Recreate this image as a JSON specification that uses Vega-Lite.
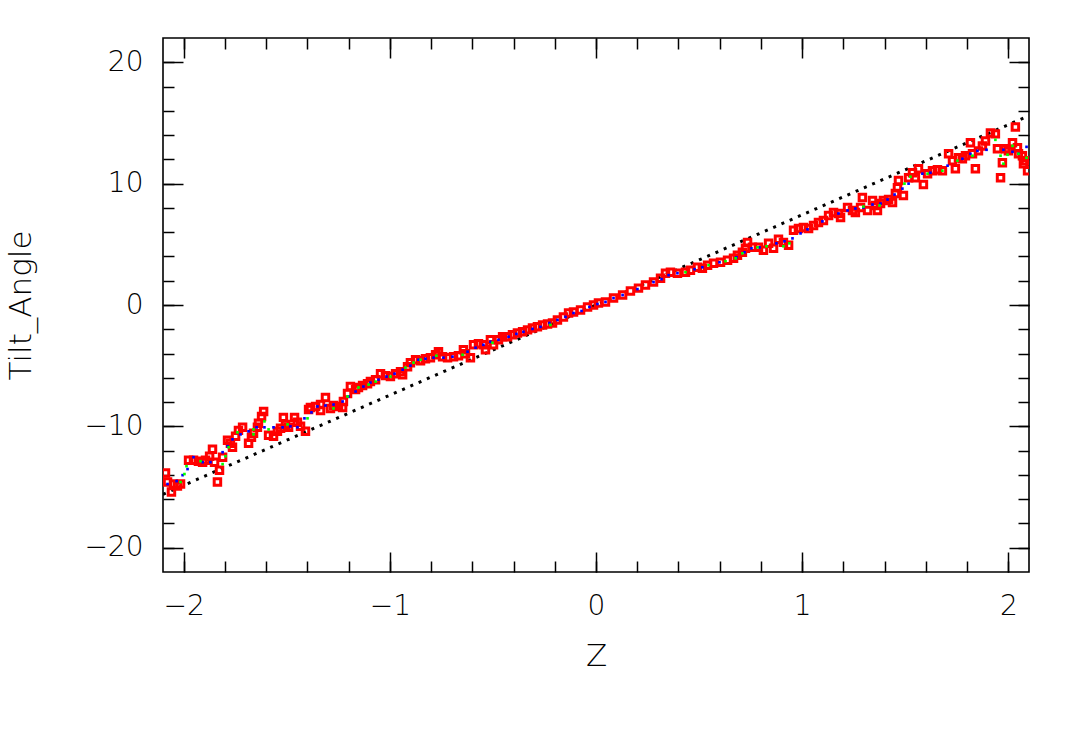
{
  "$schema": "https://vega.github.io/schema/vega-lite/v6.json",
  "width": 866,
  "height": 534,
  "autosize": {"type": "none"},
  "padding": {"left": 163, "top": 38, "right": 57, "bottom": 181},
  "background": "white",
  "config": {
    "view": {"stroke": "black", "strokeWidth": 1.6},
    "axis": {
      "domain": false,
      "grid": false,
      "tickColor": "black",
      "tickWidth": 1.5,
      "labelColor": "black",
      "labelFont": "DejaVu Sans",
      "labelFontWeight": 200,
      "labelFontSize": 28,
      "titleColor": "black",
      "titleFont": "DejaVu Sans",
      "titleFontWeight": 200,
      "titleFontSize": 31
    }
  },
  "datasets": {
    "line": [{"z": -2.1, "t": -15.6}, {"z": 2.1, "t": 15.6}],
    "red": [
      {"z": -2.088, "t": -13.85}, {"z": -2.078, "t": -14.59}, {"z": -2.059, "t": -15.41}, {"z": -2.049, "t": -14.75},
      {"z": -2.030, "t": -14.92}, {"z": -2.015, "t": -14.75}, {"z": -1.976, "t": -12.79}, {"z": -1.952, "t": -12.79},
      {"z": -1.928, "t": -12.87}, {"z": -1.908, "t": -12.95}, {"z": -1.894, "t": -12.79}, {"z": -1.874, "t": -12.46},
      {"z": -1.860, "t": -11.89}, {"z": -1.850, "t": -12.95}, {"z": -1.826, "t": -13.61}, {"z": -1.836, "t": -14.59},
      {"z": -1.811, "t": -12.54}, {"z": -1.787, "t": -11.15}, {"z": -1.773, "t": -11.39}, {"z": -1.763, "t": -11.72},
      {"z": -1.748, "t": -10.82}, {"z": -1.734, "t": -10.33}, {"z": -1.714, "t": -10.08}, {"z": -1.685, "t": -11.39},
      {"z": -1.671, "t": -10.90}, {"z": -1.661, "t": -10.57}, {"z": -1.642, "t": -10.08}, {"z": -1.637, "t": -9.75},
      {"z": -1.622, "t": -9.18}, {"z": -1.612, "t": -8.77}, {"z": -1.588, "t": -10.74}, {"z": -1.564, "t": -10.82},
      {"z": -1.545, "t": -10.41}, {"z": -1.530, "t": -10.16}, {"z": -1.516, "t": -9.26}, {"z": -1.506, "t": -9.84},
      {"z": -1.491, "t": -10.08}, {"z": -1.462, "t": -9.26}, {"z": -1.448, "t": -9.67}, {"z": -1.433, "t": -10.00},
      {"z": -1.409, "t": -10.41}, {"z": -1.394, "t": -8.61}, {"z": -1.385, "t": -8.44}, {"z": -1.360, "t": -8.36},
      {"z": -1.336, "t": -8.20}, {"z": -1.312, "t": -7.62}, {"z": -1.336, "t": -8.69}, {"z": -1.288, "t": -8.52},
      {"z": -1.273, "t": -8.28}, {"z": -1.249, "t": -8.36}, {"z": -1.229, "t": -8.44}, {"z": -1.225, "t": -7.95},
      {"z": -1.205, "t": -7.30}, {"z": -1.191, "t": -6.72}, {"z": -1.166, "t": -6.97}, {"z": -1.152, "t": -6.80},
      {"z": -1.132, "t": -6.64}, {"z": -1.108, "t": -6.48}, {"z": -1.094, "t": -6.31}, {"z": -1.069, "t": -6.15},
      {"z": -1.045, "t": -5.66}, {"z": -1.021, "t": -5.82}, {"z": -0.997, "t": -5.90}, {"z": -0.972, "t": -5.66},
      {"z": -0.948, "t": -5.49}, {"z": -0.938, "t": -5.74}, {"z": -0.914, "t": -5.08}, {"z": -0.900, "t": -4.75},
      {"z": -0.875, "t": -4.51}, {"z": -0.851, "t": -4.59}, {"z": -0.827, "t": -4.43}, {"z": -0.803, "t": -4.34},
      {"z": -0.778, "t": -4.10}, {"z": -0.764, "t": -3.85}, {"z": -0.744, "t": -4.26}, {"z": -0.720, "t": -4.34},
      {"z": -0.691, "t": -4.26}, {"z": -0.667, "t": -4.18}, {"z": -0.643, "t": -3.69}, {"z": -0.633, "t": -4.02},
      {"z": -0.609, "t": -4.34}, {"z": -0.594, "t": -3.28}, {"z": -0.570, "t": -3.20}, {"z": -0.546, "t": -3.28},
      {"z": -0.536, "t": -3.69}, {"z": -0.512, "t": -2.87}, {"z": -0.497, "t": -3.28}, {"z": -0.473, "t": -2.87},
      {"z": -0.453, "t": -2.62}, {"z": -0.429, "t": -2.62}, {"z": -0.405, "t": -2.46}, {"z": -0.381, "t": -2.30},
      {"z": -0.356, "t": -2.21}, {"z": -0.332, "t": -2.05}, {"z": -0.308, "t": -1.89}, {"z": -0.284, "t": -1.80},
      {"z": -0.259, "t": -1.64}, {"z": -0.235, "t": -1.56}, {"z": -0.211, "t": -1.48}, {"z": -0.187, "t": -1.23},
      {"z": -0.158, "t": -0.98}, {"z": -0.133, "t": -0.66}, {"z": -0.109, "t": -0.57}, {"z": -0.075, "t": -0.41},
      {"z": -0.041, "t": -0.16}, {"z": -0.012, "t": 0.00}, {"z": 0.012, "t": 0.16}, {"z": 0.046, "t": 0.25},
      {"z": 0.085, "t": 0.57}, {"z": 0.129, "t": 0.82}, {"z": 0.167, "t": 1.15}, {"z": 0.206, "t": 1.39},
      {"z": 0.240, "t": 1.64}, {"z": 0.279, "t": 1.89}, {"z": 0.313, "t": 2.21}, {"z": 0.337, "t": 2.62},
      {"z": 0.361, "t": 2.70}, {"z": 0.395, "t": 2.62}, {"z": 0.434, "t": 2.70}, {"z": 0.458, "t": 2.87},
      {"z": 0.492, "t": 3.11}, {"z": 0.516, "t": 3.03}, {"z": 0.541, "t": 3.28}, {"z": 0.570, "t": 3.44},
      {"z": 0.604, "t": 3.52}, {"z": 0.638, "t": 3.69}, {"z": 0.667, "t": 3.85}, {"z": 0.686, "t": 4.10},
      {"z": 0.710, "t": 4.34}, {"z": 0.725, "t": 4.67}, {"z": 0.735, "t": 5.16}, {"z": 0.759, "t": 4.75},
      {"z": 0.788, "t": 4.75}, {"z": 0.812, "t": 4.51}, {"z": 0.837, "t": 5.08}, {"z": 0.861, "t": 4.67},
      {"z": 0.885, "t": 5.41}, {"z": 0.909, "t": 5.16}, {"z": 0.934, "t": 4.92}, {"z": 0.958, "t": 6.15},
      {"z": 0.982, "t": 6.31}, {"z": 1.006, "t": 6.39}, {"z": 1.031, "t": 6.31}, {"z": 1.055, "t": 6.56},
      {"z": 1.079, "t": 6.80}, {"z": 1.103, "t": 6.97}, {"z": 1.128, "t": 7.38}, {"z": 1.152, "t": 7.62},
      {"z": 1.176, "t": 7.54}, {"z": 1.186, "t": 7.21}, {"z": 1.220, "t": 8.03}, {"z": 1.244, "t": 7.79},
      {"z": 1.258, "t": 7.62}, {"z": 1.283, "t": 8.03}, {"z": 1.292, "t": 8.85}, {"z": 1.317, "t": 7.79},
      {"z": 1.341, "t": 8.61}, {"z": 1.355, "t": 8.20}, {"z": 1.365, "t": 7.79}, {"z": 1.380, "t": 8.36},
      {"z": 1.394, "t": 8.61}, {"z": 1.419, "t": 8.69}, {"z": 1.438, "t": 8.44}, {"z": 1.452, "t": 9.18},
      {"z": 1.462, "t": 9.67}, {"z": 1.467, "t": 10.25}, {"z": 1.491, "t": 9.02}, {"z": 1.516, "t": 10.49},
      {"z": 1.535, "t": 10.90}, {"z": 1.549, "t": 10.49}, {"z": 1.564, "t": 11.23}, {"z": 1.588, "t": 9.92},
      {"z": 1.608, "t": 10.82}, {"z": 1.632, "t": 11.07}, {"z": 1.656, "t": 11.15}, {"z": 1.680, "t": 11.07},
      {"z": 1.710, "t": 12.46}, {"z": 1.729, "t": 11.89}, {"z": 1.743, "t": 11.23}, {"z": 1.758, "t": 12.13},
      {"z": 1.777, "t": 12.05}, {"z": 1.792, "t": 12.30}, {"z": 1.816, "t": 13.36}, {"z": 1.826, "t": 12.46},
      {"z": 1.840, "t": 11.23}, {"z": 1.855, "t": 12.70}, {"z": 1.874, "t": 13.11}, {"z": 1.889, "t": 13.52},
      {"z": 1.913, "t": 14.18}, {"z": 1.937, "t": 14.10}, {"z": 1.947, "t": 12.87}, {"z": 1.962, "t": 10.49},
      {"z": 1.971, "t": 11.72}, {"z": 1.986, "t": 12.87}, {"z": 2.000, "t": 12.70}, {"z": 2.020, "t": 13.36},
      {"z": 2.034, "t": 14.67}, {"z": 2.044, "t": 12.95}, {"z": 2.049, "t": 12.46}, {"z": 2.068, "t": 12.30},
      {"z": 2.073, "t": 11.64}, {"z": 2.093, "t": 11.07}, {"z": 2.083, "t": 11.89}
    ],
    "blue": [
      {"z": -2.078, "t": -14.75}, {"z": -2.034, "t": -14.51}, {"z": -2.005, "t": -14.02}, {"z": -1.981, "t": -13.52},
      {"z": -1.952, "t": -12.54}, {"z": -1.908, "t": -12.95}, {"z": -1.870, "t": -12.95}, {"z": -1.811, "t": -12.13},
      {"z": -1.787, "t": -11.64}, {"z": -1.763, "t": -11.07}, {"z": -1.724, "t": -10.66}, {"z": -1.685, "t": -10.41},
      {"z": -1.646, "t": -10.08}, {"z": -1.608, "t": -10.08}, {"z": -1.564, "t": -10.08}, {"z": -1.520, "t": -10.08},
      {"z": -1.482, "t": -10.00}, {"z": -1.448, "t": -10.08}, {"z": -1.414, "t": -9.34}, {"z": -1.380, "t": -8.85},
      {"z": -1.351, "t": -8.36}, {"z": -1.312, "t": -8.28}, {"z": -1.273, "t": -8.20}, {"z": -1.229, "t": -7.95},
      {"z": -1.200, "t": -7.54}, {"z": -1.166, "t": -7.13}, {"z": -1.128, "t": -6.72}, {"z": -1.094, "t": -6.39},
      {"z": -1.055, "t": -6.15}, {"z": -1.016, "t": -5.90}, {"z": -0.977, "t": -5.66}, {"z": -0.938, "t": -5.33},
      {"z": -0.900, "t": -5.00}, {"z": -0.861, "t": -4.51}, {"z": -0.827, "t": -4.43}, {"z": -0.788, "t": -4.34},
      {"z": -0.740, "t": -4.34}, {"z": -0.696, "t": -4.26}, {"z": -0.623, "t": -3.85}, {"z": -0.584, "t": -3.52},
      {"z": -0.546, "t": -3.28}, {"z": -0.512, "t": -3.03}, {"z": -0.473, "t": -2.87}, {"z": -0.424, "t": -2.62},
      {"z": -0.386, "t": -2.38}, {"z": -0.352, "t": -2.21}, {"z": -0.308, "t": -1.97}, {"z": -0.269, "t": -1.80},
      {"z": -0.226, "t": -1.48}, {"z": -0.187, "t": -1.23}, {"z": -0.148, "t": -0.98}, {"z": -0.109, "t": -0.66},
      {"z": -0.070, "t": -0.49}, {"z": -0.032, "t": -0.16}, {"z": 0.007, "t": 0.08}, {"z": 0.046, "t": 0.25},
      {"z": 0.085, "t": 0.57}, {"z": 0.129, "t": 0.82}, {"z": 0.201, "t": 1.31}, {"z": 0.279, "t": 1.89},
      {"z": 0.318, "t": 2.13}, {"z": 0.352, "t": 2.46}, {"z": 0.395, "t": 2.62}, {"z": 0.478, "t": 2.95},
      {"z": 0.516, "t": 3.11}, {"z": 0.599, "t": 3.52}, {"z": 0.681, "t": 3.93}, {"z": 0.720, "t": 4.34},
      {"z": 0.754, "t": 4.67}, {"z": 0.793, "t": 4.75}, {"z": 0.875, "t": 5.08}, {"z": 0.914, "t": 5.25},
      {"z": 0.953, "t": 5.49}, {"z": 0.992, "t": 5.90}, {"z": 1.026, "t": 6.23}, {"z": 1.098, "t": 6.89},
      {"z": 1.176, "t": 7.54}, {"z": 1.220, "t": 7.79}, {"z": 1.258, "t": 7.95}, {"z": 1.297, "t": 8.03},
      {"z": 1.341, "t": 8.28}, {"z": 1.380, "t": 8.36}, {"z": 1.414, "t": 8.69}, {"z": 1.448, "t": 9.10},
      {"z": 1.486, "t": 9.59}, {"z": 1.516, "t": 10.00}, {"z": 1.583, "t": 10.82}, {"z": 1.622, "t": 10.90},
      {"z": 1.705, "t": 11.48}, {"z": 1.777, "t": 12.05}, {"z": 1.816, "t": 12.46}, {"z": 1.850, "t": 12.70},
      {"z": 1.894, "t": 12.79}, {"z": 1.976, "t": 12.79}, {"z": 2.020, "t": 12.62}, {"z": 2.049, "t": 12.46},
      {"z": 2.088, "t": 13.03}
    ],
    "green": [
      {"z": -2.015, "t": -14.59}, {"z": -1.996, "t": -13.93}, {"z": -1.986, "t": -13.28}, {"z": -1.918, "t": -12.87},
      {"z": -1.811, "t": -13.11}, {"z": -1.797, "t": -12.46}, {"z": -1.782, "t": -11.72}, {"z": -1.739, "t": -10.49},
      {"z": -1.661, "t": -10.25}, {"z": -1.661, "t": -10.66}, {"z": -1.608, "t": -9.59}, {"z": -1.588, "t": -10.25},
      {"z": -1.496, "t": -9.84}, {"z": -1.399, "t": -9.34}, {"z": -1.273, "t": -8.52}, {"z": -1.205, "t": -7.54},
      {"z": -1.152, "t": -6.80}, {"z": -1.103, "t": -6.56}, {"z": -1.069, "t": -6.31}, {"z": -0.997, "t": -5.90},
      {"z": -0.924, "t": -5.16}, {"z": -0.885, "t": -4.75}, {"z": -0.851, "t": -4.51}, {"z": -0.774, "t": -4.18},
      {"z": -0.647, "t": -4.10}, {"z": -0.502, "t": -3.11}, {"z": -0.221, "t": -1.64}, {"z": 0.434, "t": 2.70},
      {"z": 0.546, "t": 3.28}, {"z": 0.628, "t": 3.61}, {"z": 0.677, "t": 3.85}, {"z": 0.710, "t": 4.26},
      {"z": 0.783, "t": 4.75}, {"z": 0.827, "t": 4.84}, {"z": 0.909, "t": 4.84}, {"z": 0.938, "t": 5.08},
      {"z": 1.297, "t": 8.11}, {"z": 1.375, "t": 8.20}, {"z": 1.496, "t": 10.00}, {"z": 1.525, "t": 10.57},
      {"z": 1.608, "t": 10.82}, {"z": 1.680, "t": 11.07}, {"z": 1.753, "t": 11.89}, {"z": 1.826, "t": 12.30},
      {"z": 1.937, "t": 13.61}, {"z": 1.962, "t": 12.30}, {"z": 1.976, "t": 11.64}, {"z": 1.996, "t": 12.38},
      {"z": 2.020, "t": 13.11}, {"z": 2.049, "t": 12.46}, {"z": 2.088, "t": 12.13}, {"z": 2.107, "t": 12.54}
    ]
  },
  "resolve": {"axis": {"x": "independent", "y": "independent"}},
  "layer": [
    {
      "data": {"name": "line"},
      "mark": {"type": "line", "color": "black", "strokeWidth": 3, "strokeDash": [3, 6], "clip": true},
      "encoding": {
        "x": {"field": "z", "type": "quantitative", "scale": {"domain": [-2.1, 2.1], "nice": false, "zero": false},
          "axis": {"orient": "bottom", "values": [-2, -1, 0, 1, 2], "tickSize": -20, "labelPadding": 40, "title": "Z", "titlePadding": 21}},
        "y": {"field": "t", "type": "quantitative", "scale": {"domain": [-22, 22], "nice": false, "zero": false},
          "axis": {"orient": "left", "values": [-20, -10, 0, 10, 20], "tickSize": -20, "labelPadding": 40, "title": "Tilt_Angle", "titlePadding": 46}}
      }
    },
    {
      "data": {"name": "red"},
      "mark": {"type": "point", "shape": "square", "filled": false, "color": "#ff0000", "strokeWidth": 3, "size": 42, "opacity": 1, "clip": true},
      "encoding": {
        "x": {"field": "z", "type": "quantitative",
          "axis": {"orient": "bottom", "values": [-2, -1.8, -1.6, -1.4, -1.2, -1, -0.8, -0.6, -0.4, -0.2, 0, 0.2, 0.4, 0.6, 0.8, 1, 1.2, 1.4, 1.6, 1.8, 2], "tickSize": -11, "labels": false, "title": null}},
        "y": {"field": "t", "type": "quantitative",
          "axis": {"orient": "left", "values": [-20, -18, -16, -14, -12, -10, -8, -6, -4, -2, 0, 2, 4, 6, 8, 10, 12, 14, 16, 18, 20], "tickSize": -11, "labels": false, "title": null}}
      }
    },
    {
      "data": {"name": "blue"},
      "mark": {"type": "square", "color": "#0000ff", "size": 7, "opacity": 1, "clip": true},
      "encoding": {
        "x": {"field": "z", "type": "quantitative",
          "axis": {"orient": "top", "values": [-2, -1, 0, 1, 2], "tickSize": -20, "labels": false, "title": null}},
        "y": {"field": "t", "type": "quantitative",
          "axis": {"orient": "right", "values": [-20, -10, 0, 10, 20], "tickSize": -20, "labels": false, "title": null}}
      }
    },
    {
      "data": {"name": "green"},
      "mark": {"type": "square", "color": "#00ff00", "size": 7, "opacity": 1, "clip": true},
      "encoding": {
        "x": {"field": "z", "type": "quantitative",
          "axis": {"orient": "top", "values": [-2, -1.8, -1.6, -1.4, -1.2, -1, -0.8, -0.6, -0.4, -0.2, 0, 0.2, 0.4, 0.6, 0.8, 1, 1.2, 1.4, 1.6, 1.8, 2], "tickSize": -11, "labels": false, "title": null}},
        "y": {"field": "t", "type": "quantitative",
          "axis": {"orient": "right", "values": [-20, -18, -16, -14, -12, -10, -8, -6, -4, -2, 0, 2, 4, 6, 8, 10, 12, 14, 16, 18, 20], "tickSize": -11, "labels": false, "title": null}}
      }
    }
  ]
}
